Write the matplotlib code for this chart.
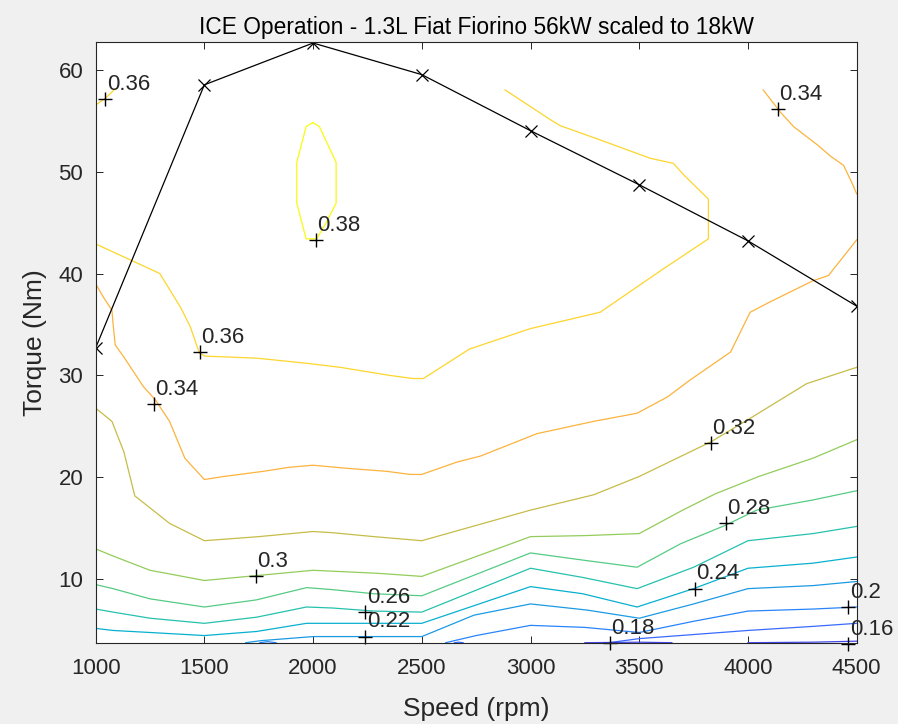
import matplotlib
matplotlib.use('Agg')
import matplotlib.pyplot as plt
from matplotlib.colors import LinearSegmentedColormap, Normalize

# ===== Efficiency contour lines (speed rpm, torque Nm) =====
c38_speed = [1999, 2029, 2106, 2106, 2066, 2017, 1968, 1925, 1925, 1968, 1999]
c38_torque = [54.8, 54.4, 50.9, 46.9, 45.2, 43.4, 43.4, 46.9, 50.9, 54.4, 54.8]

c36a_speed = [1000, 1045, 1090]
c36a_torque = [56.5, 57.2, 58.1]

c36_speed = [1000, 1295, 1390, 1435, 1477, 1503, 1740, 1970, 2125, 2355, 2460, 2507,
             2720, 3000, 3320, 3600, 3818, 3818, 3703, 3657, 3550, 3320, 3136, 3090, 2883]
c36_torque = [42.9, 40.0, 36.7, 34.8, 32.2, 31.9, 31.7, 31.2, 30.8, 30.0, 29.7, 29.7,
              32.6, 34.6, 36.2, 40.3, 43.4, 47.3, 49.7, 50.8, 51.3, 53.1, 54.5, 55.1, 58.0]

c34a_speed = [4070, 4150, 4210, 4320, 4380, 4440, 4480, 4500]
c34a_torque = [58.0, 55.8, 54.4, 52.6, 51.5, 50.6, 48.8, 47.8]

c34_speed = [1000, 1035, 1075, 1080, 1090, 1130, 1220, 1275, 1340, 1410, 1500, 1590,
             1770, 1890, 2000, 2155, 2340, 2445, 2500, 2660, 2770, 3030, 3290, 3490,
             3630, 3730, 3920, 4010, 4100, 4300, 4370, 4500]
c34_torque = [39.0, 37.7, 36.4, 35.1, 33.0, 31.8, 28.9, 27.6, 25.5, 21.9, 19.8, 20.1,
              20.6, 21.0, 21.2, 20.9, 20.6, 20.3, 20.3, 21.5, 22.1, 24.3, 25.5, 26.3,
              27.9, 29.5, 32.3, 36.2, 37.2, 39.3, 39.8, 43.3]

c32_speed = [1000, 1075, 1130, 1180, 1340, 1500, 1750, 2000, 2080, 2280, 2500, 3000,
             3290, 3500, 3830, 4010, 4270, 4500]
c32_torque = [26.8, 25.5, 22.5, 18.2, 15.5, 13.8, 14.2, 14.7, 14.6, 14.2, 13.8, 16.8,
              18.3, 20.1, 23.5, 25.8, 29.2, 30.8]

c30_speed = [1000, 1080, 1250, 1500, 1750, 2000, 2100, 2300, 2500, 3000, 3250, 3500,
             3700, 3850, 4050, 4300, 4500]
c30_torque = [13.0, 12.3, 10.9, 9.9, 10.4, 10.9, 10.8, 10.6, 10.3, 14.2, 14.3, 14.5,
              16.8, 18.4, 20.1, 21.9, 23.7]

c28_speed = [1000, 1080, 1250, 1500, 1740, 1970, 2090, 2280, 2500, 3000, 3240, 3490,
             3690, 3895, 4040, 4300, 4500]
c28_torque = [9.5, 9.1, 8.1, 7.3, 8.0, 9.2, 9.0, 8.6, 8.4, 12.6, 11.9, 11.2,
              13.5, 15.3, 16.8, 17.8, 18.7]

c26_speed = [1000, 1080, 1250, 1500, 1740, 1970, 2090, 2280, 2500, 3000, 3240, 3490,
             3750, 4000, 4300, 4500]
c26_torque = [7.1, 6.8, 6.2, 5.7, 6.3, 7.3, 7.2, 6.9, 6.8, 11.1, 10.2, 9.1,
              11.2, 13.8, 14.5, 15.2]

c24_speed = [1000, 1080, 1250, 1500, 1740, 1970, 2230, 2500, 3000, 3240, 3490, 3750,
             4000, 4300, 4500]
c24_torque = [5.2, 5.0, 4.8, 4.5, 4.9, 5.7, 5.7, 5.7, 9.3, 8.6, 7.3, 9.1,
              11.1, 11.6, 12.2]

c22_speed = [1690, 1760, 2000, 2500, 2740, 3000, 3260, 3500, 3750, 4000, 4300, 4500]
c22_torque = [3.8, 4.0, 4.4, 4.4, 6.5, 7.6, 7.0, 6.2, 7.6, 9.1, 9.4, 9.8]

c20a_speed = [1755, 1790, 1830]
c20a_torque = [3.8, 3.9, 3.8]

c20_speed = [2610, 2750, 3000, 3250, 3500, 3750, 4000, 4300, 4500]
c20_torque = [3.8, 4.5, 5.5, 5.3, 4.8, 5.9, 6.9, 7.1, 7.3]

c18a_speed = [2650, 2670, 2690]
c18a_torque = [3.8, 3.85, 3.8]

c18_speed = [3360, 3500, 4000, 4300, 4500]
c18_torque = [3.8, 4.2, 5.0, 5.4, 5.7]

c16a_speed = [3250, 3500, 3650]
c16a_torque = [3.8, 3.85, 3.8]

c16_speed = [4000, 4300, 4500]
c16_torque = [3.8, 3.85, 3.95]

# ===== Contour labels (level, position of the '+') =====
label_levels = [0.36, 0.38, 0.34, 0.36, 0.34, 0.32, 0.28, 0.3, 0.26, 0.24, 0.22, 0.18, 0.2, 0.16]
label_speed = [1045, 2014, 4138, 1480, 1269, 3831, 3898, 1738, 2240, 3757, 2240, 3366, 4462, 4462]
label_torque = [57.1, 43.3, 56.1, 32.3, 27.2, 23.4, 15.5, 10.3, 6.8, 9.1, 4.4, 3.8, 7.3, 3.7]

# ===== Maximum torque curve =====
max_speed = [1000, 1500, 2000, 2500, 3000, 3500, 4000, 4500]
max_torque = [32.7, 58.5, 62.6, 59.5, 54.0, 48.7, 43.2, 36.8]

contours = [
    (0.38, c38_speed, c38_torque),
    (0.36, c36a_speed, c36a_torque),
    (0.36, c36_speed, c36_torque),
    (0.34, c34a_speed, c34a_torque),
    (0.34, c34_speed, c34_torque),
    (0.32, c32_speed, c32_torque),
    (0.30, c30_speed, c30_torque),
    (0.28, c28_speed, c28_torque),
    (0.26, c26_speed, c26_torque),
    (0.24, c24_speed, c24_torque),
    (0.22, c22_speed, c22_torque),
    (0.20, c20a_speed, c20a_torque),
    (0.20, c20_speed, c20_torque),
    (0.18, c18a_speed, c18a_torque),
    (0.18, c18_speed, c18_torque),
    (0.16, c16a_speed, c16a_torque),
    (0.16, c16_speed, c16_torque),
]

# MATLAB parula, approximated by samples
parula = LinearSegmentedColormap.from_list('parula', [
    (0.000, (0.2422, 0.1504, 0.6603)),
    (0.083, (0.2719, 0.2788, 0.9231)),
    (0.167, (0.2234, 0.4201, 0.9931)),
    (0.250, (0.1540, 0.5151, 0.9801)),
    (0.333, (0.1066, 0.6049, 0.8902)),
    (0.417, (0.0313, 0.6929, 0.8106)),
    (0.500, (0.1389, 0.7548, 0.6856)),
    (0.583, (0.3305, 0.7960, 0.5182)),
    (0.667, (0.5777, 0.8003, 0.3567)),
    (0.750, (0.7700, 0.7400, 0.2900)),
    (0.833, (0.9900, 0.7000, 0.2400)),
    (0.917, (0.9962, 0.8330, 0.1740)),
    (1.000, (0.9763, 0.9831, 0.0538)),
])
norm = Normalize(vmin=0.14, vmax=0.38)

plt.rcParams['font.family'] = ['Liberation Sans', 'DejaVu Sans']
TXT = '#262626'

fig = plt.figure(figsize=(8.98, 7.24), dpi=100, facecolor='#f0f0f0')
ax = fig.add_axes([0.1065, 0.1123, 0.8475, 0.8297])
ax.set_facecolor('white')

for level, sp, tq in contours:
    ax.plot(sp, tq, color=parula(norm(level)), lw=0.9)

ax.plot(max_speed, max_torque, color='black', lw=0.9, marker='x', ms=8, mew=0.9)

for lev, sp, tq in zip(label_levels, label_speed, label_torque):
    ax.plot(sp, tq, marker='+', color='black', ms=10, mew=1.0, ls='none', clip_on=False)
    ax.annotate(f'{lev:g}', (sp, tq), xytext=(1.0, 3.0), textcoords='offset points',
                ha='left', va='bottom', fontsize=16, color=TXT, annotation_clip=False)

ax.set_xlim(1000, 4500)
ax.set_ylim(3.8, 62.7)
ax.set_xticks(range(1000, 4501, 500))
ax.set_yticks(range(10, 61, 10))
ax.tick_params(direction='in', length=5, width=0.7, top=True, right=True,
               labelsize=16, colors=TXT, pad=9)
ax.tick_params(axis='x', pad=11)
for s in ax.spines.values():
    s.set_color(TXT)
    s.set_linewidth(0.8)

ax.set_xlabel('Speed (rpm)', fontsize=19, color=TXT)
ax.set_ylabel('Torque (Nm)', fontsize=19, color=TXT)
ax.xaxis.set_label_coords(0.5, -0.09)
ax.yaxis.set_label_coords(-0.064, 0.5)
ax.set_title('ICE Operation - 1.3L Fiat Fiorino 56kW scaled to 18kW', fontsize=16.4,
             color='black', pad=6)

fig.savefig('out.png', dpi=100, facecolor=fig.get_facecolor())
